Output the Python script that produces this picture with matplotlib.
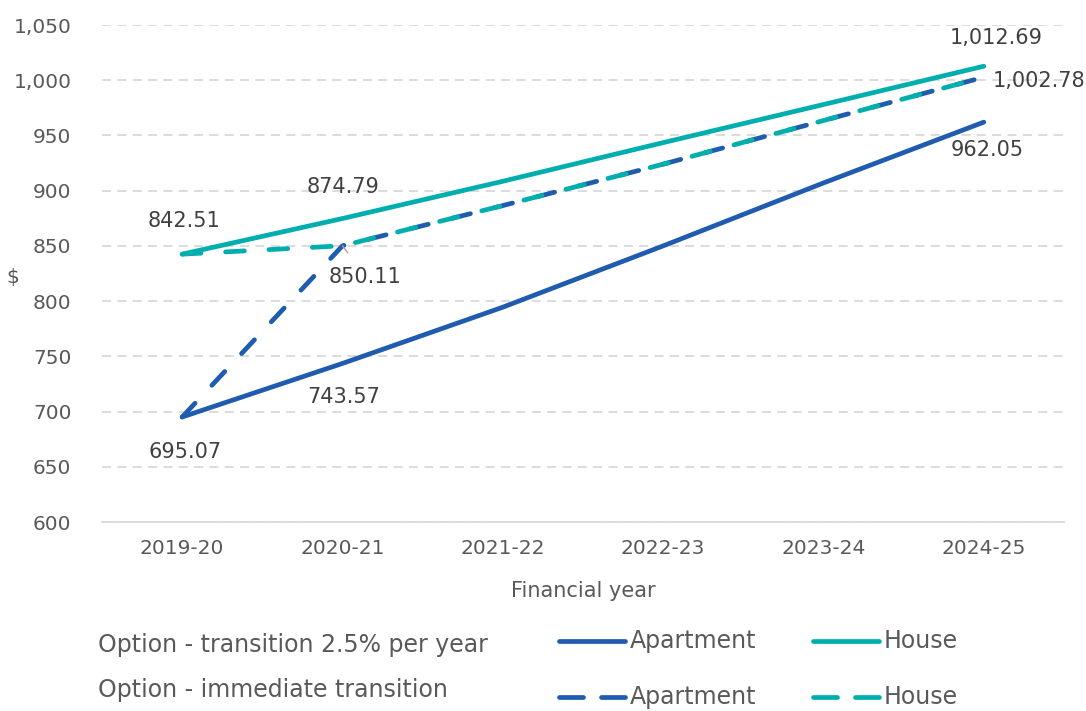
import matplotlib.pyplot as plt
from matplotlib.lines import Line2D

years = ["2019-20", "2020-21", "2021-22", "2022-23", "2023-24", "2024-25"]
apt_transition = [695.07, 743.57, 794.5, 850.0, 907.0, 962.05]
house_transition = [842.51, 874.79, 908.5, 943.5, 978.0, 1012.69]
apt_immediate = [695.07, 850.11, 886.5, 924.0, 963.5, 1002.78]
house_immediate = [842.51, 850.11, 886.5, 924.0, 963.5, 1002.78]

BLUE = "#1F5BAE"
TEAL = "#00AFAD"
GREY_TXT = "#595959"
LBL_TXT = "#404040"

plt.rcParams['font.family'] = ['DejaVu Sans']

W, H = 1086, 711
fig = plt.figure(figsize=(W / 100, H / 100), dpi=100)
ax = fig.add_axes([102 / W, 1 - 522 / H, (1064 - 102) / W, (522 - 25) / H])

x = list(range(len(years)))
dash = (4.0, 5.2)
ax.plot(x, apt_transition, color=BLUE, lw=3.4, solid_capstyle='round', zorder=3)
ax.plot(x, house_transition, color=TEAL, lw=3.4, solid_capstyle='round', zorder=3)
ax.plot(x, apt_immediate, color=BLUE, lw=3.4, dashes=dash, dash_capstyle='round', zorder=3)
ax.plot(x, house_immediate, color=TEAL, lw=3.4, dashes=dash, dash_capstyle='round', zorder=4)

ax.set_xlim(-0.5, len(years) - 0.5)
ax.set_ylim(600, 1050)
ax.set_yticks(range(600, 1051, 50))
ax.set_yticklabels([f"{v:,}" for v in range(600, 1051, 50)])
ax.set_xticks(x)
ax.set_xticklabels(years)
ax.tick_params(axis='both', length=0, labelsize=14.5, labelcolor=GREY_TXT)
ax.tick_params(axis='y', pad=22)
ax.tick_params(axis='x', pad=12)

ax.grid(axis='y', color='#D9D9D9', lw=1.3, dashes=(5, 3.5))
ax.set_axisbelow(True)
for s in ['top', 'right', 'left']:
    ax.spines[s].set_visible(False)
ax.spines['bottom'].set_color('#D9D9D9')
ax.spines['bottom'].set_linewidth(1.3)

ax.set_xlabel("Financial year", fontsize=15, color=GREY_TXT, labelpad=17)
ax.set_ylabel("$", fontsize=14.5, color=GREY_TXT, rotation=0, va='center')
ax.yaxis.set_label_coords(-0.093, 0.491)


def lab(i, series, dx, dy, ha='center'):
    v = series[i]
    ax.annotate(f"{v:,.2f}", (i, v), xytext=(dx, dy), textcoords='offset pixels',
                ha=ha, va='center', fontsize=15, color=LBL_TXT)


lab(0, house_transition, 2, 33)
lab(1, house_transition, 1, 32)
lab(0, apt_transition, 3, -35)
lab(1, apt_transition, 1, -34)
lab(5, house_transition, 12, 28)
lab(5, apt_transition, 3, -28)
lab(5, apt_immediate, 9, -4, ha='left')
ax.annotate(f"{apt_immediate[1]:,.2f}", (1, apt_immediate[1]), xytext=(23, -31),
            textcoords='offset pixels', ha='center', va='center', fontsize=15,
            color=LBL_TXT,
            arrowprops=dict(arrowstyle='-', color='#A6A6A6', lw=1,
                            shrinkA=10, shrinkB=0))

# legend laid out as a small table below the chart
def fx(px):
    return px / W


def fy(py):
    return 1 - py / H


fig.text(fx(98), fy(645), "Option - transition 2.5% per year", fontsize=17,
         color=GREY_TXT, va='center', ha='left')
fig.text(fx(98), fy(690), "Option - immediate transition", fontsize=17,
         color=GREY_TXT, va='center', ha='left')
for row_y, dashed in [(641, False), (697, True)]:
    for x0, col, name in [(557, BLUE, "Apartment"), (811, TEAL, "House")]:
        if dashed:
            segs = [(x0 + 2, x0 + 26), (x0 + 44, x0 + 68)]
        else:
            segs = [(x0 + 2, x0 + 68)]
        for a, b in segs:
            fig.add_artist(Line2D([fx(a), fx(b)], [fy(row_y), fy(row_y)], color=col,
                                  lw=3.4, solid_capstyle='round'))
        fig.text(fx(x0 + 73), fy(row_y), name, fontsize=17, color=GREY_TXT,
                 va='center', ha='left')

fig.savefig("out.png", dpi=100)
